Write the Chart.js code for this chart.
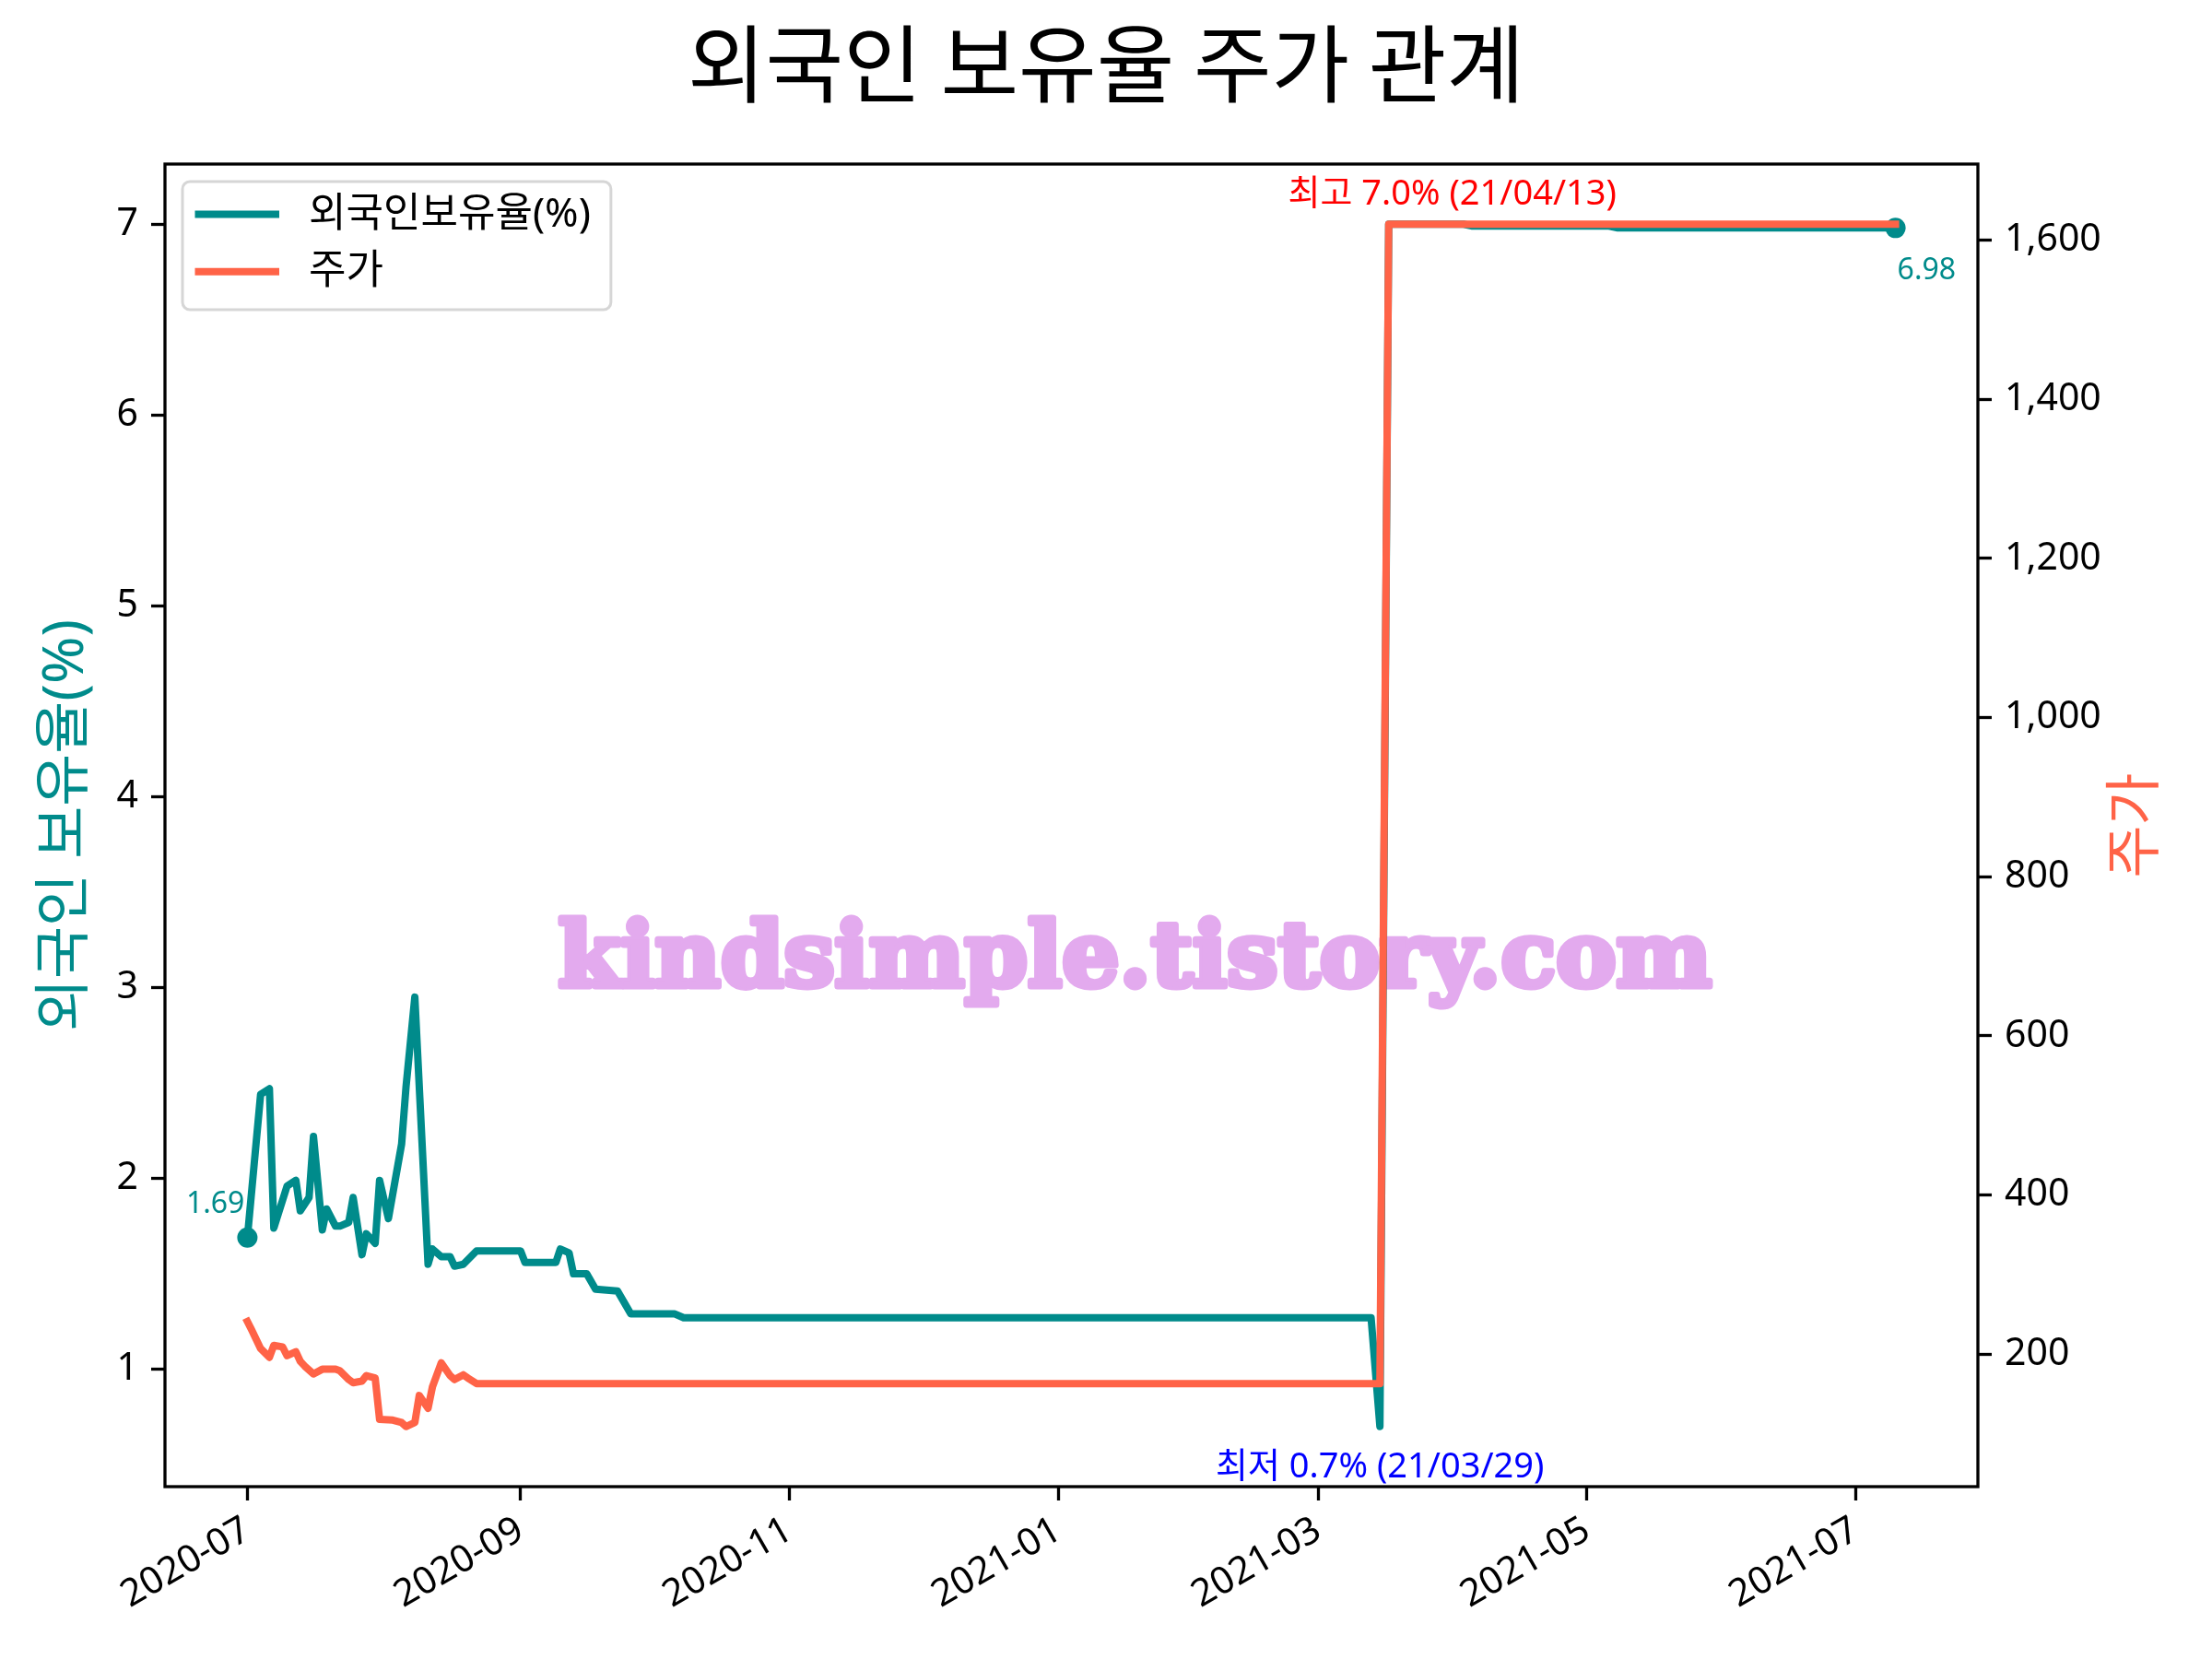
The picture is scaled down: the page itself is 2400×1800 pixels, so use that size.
<!DOCTYPE html>
<html lang="ko">
<head>
<meta charset="UTF-8" />
<title>외국인 보유율 주가 관계</title>
<style>
  html, body { margin: 0; padding: 0; background: #fff; }
</style>
</head>
<body>
<canvas id="chart" width="2400" height="1800"></canvas>
<script src="https://cdn.jsdelivr.net/npm/chart.js"></script>
<script>
// 외국인 보유율 (%)
const ratioDates = [
  '2020-07-01', '2020-07-04', '2020-07-06', '2020-07-07', '2020-07-10', '2020-07-12',
  '2020-07-13', '2020-07-15', '2020-07-16', '2020-07-18', '2020-07-19', '2020-07-21',
  '2020-07-22', '2020-07-24', '2020-07-25', '2020-07-27', '2020-07-28', '2020-07-30',
  '2020-07-31', '2020-08-02', '2020-08-05', '2020-08-06', '2020-08-08', '2020-08-11',
  '2020-08-12', '2020-08-14', '2020-08-16', '2020-08-17', '2020-08-19', '2020-08-22',
  '2020-09-01', '2020-09-02', '2020-09-09', '2020-09-10', '2020-09-12', '2020-09-13',
  '2020-09-16', '2020-09-18', '2020-09-23', '2020-09-26', '2020-10-06', '2020-10-08',
  '2021-03-13', '2021-03-15', '2021-03-17', '2021-04-03', '2021-04-05', '2021-05-06',
  '2021-05-08', '2021-07-10'
];
const ratioValues = [
  1.69, 2.44, 2.47, 1.74, 1.96, 1.99,
  1.83, 1.90, 2.22, 1.73, 1.84, 1.75,
  1.75, 1.77, 1.90, 1.60, 1.71, 1.66,
  1.99, 1.79, 2.18, 2.48, 2.95, 1.55,
  1.63, 1.59, 1.59, 1.54, 1.55, 1.62,
  1.62, 1.56, 1.56, 1.63, 1.61, 1.50,
  1.50, 1.42, 1.41, 1.29, 1.29, 1.27,
  1.27, 0.70, 7.00, 7.00, 6.99, 6.99,
  6.98, 6.98
];

// 주가
const priceDates = [
  '2020-07-01', '2020-07-02', '2020-07-04', '2020-07-06', '2020-07-07', '2020-07-09',
  '2020-07-10', '2020-07-12', '2020-07-13', '2020-07-14', '2020-07-16', '2020-07-18',
  '2020-07-21', '2020-07-22', '2020-07-24', '2020-07-25', '2020-07-27', '2020-07-28',
  '2020-07-30', '2020-07-31', '2020-08-03', '2020-08-05', '2020-08-06', '2020-08-08',
  '2020-08-09', '2020-08-11', '2020-08-12', '2020-08-14', '2020-08-16', '2020-08-17',
  '2020-08-19', '2020-08-20', '2020-08-22', '2021-03-15', '2021-03-17', '2021-07-10'
];
const priceValues = [
  241, 230, 207, 196, 211, 209,
  198, 203, 191, 185, 175, 181,
  181, 179, 168, 164, 166, 173,
  170, 118, 117, 114, 109, 114,
  148, 132, 159, 189, 173, 168,
  174, 170, 163, 163, 1620, 1620
];

const xTickLabels = ['2020-07', '2020-09', '2020-11', '2021-01', '2021-03', '2021-05', '2021-07'];
const ratioTicks = [1, 2, 3, 4, 5, 6, 7];
const priceTicks = [200, 400, 600, 800, 1000, 1200, 1400, 1600];

const titleText = '외국인 보유율 주가 관계';
const ratioLabel = '외국인 보유율(%)';
const priceLabel = '주가';
const maxNote = '최고 7.0% (21/04/13)';
const minNote = '최저 0.7% (21/03/29)';
const watermark = 'kindsimple.tistory.com';

const TEAL = '#008b8b';
const TOMATO = '#ff6347';
const FONT = "'Noto Sans', 'Noto Sans CJK KR', sans-serif";

Chart.defaults.font.family = FONT;
Chart.defaults.color = '#000';

// matplotlib style 5% margins
function padded(lo, hi) {
  const m = (hi - lo) * 0.05;
  return [lo - m, hi + m];
}
const ratioTs = ratioDates.map(d => Date.parse(d));
const priceTs = priceDates.map(d => Date.parse(d));
const [xMin, xMax] = padded(Math.min(...ratioTs, ...priceTs), Math.max(...ratioTs, ...priceTs));
const [yMin, yMax] = padded(Math.min(...ratioValues), Math.max(...ratioValues));
const [pMin, pMax] = padded(Math.min(...priceValues), Math.max(...priceValues));

const decor = {
  id: 'decor',
  beforeDatasetsDraw(chart) {
    const { ctx, chartArea: a } = chart;
    const stroke = 7;
    ctx.save();
    ctx.font = "bold 100px 'DejaVu Serif'";
    const w = ctx.measureText(watermark).width;
    const size = 100 * ((a.right - a.left) * 0.64 - stroke) / w;
    ctx.font = `bold ${size}px 'DejaVu Serif'`;
    ctx.fillStyle = '#e3aaee';
    ctx.strokeStyle = '#e3aaee';
    ctx.lineWidth = stroke;
    ctx.lineJoin = 'round';
    ctx.textAlign = 'center';
    ctx.textBaseline = 'middle';
    const wx = a.left + (a.right - a.left) * 0.535;
    const wy = a.top + (a.bottom - a.top) * 0.604;
    ctx.strokeText(watermark, wx, wy);
    ctx.fillText(watermark, wx, wy);
    ctx.restore();
  },
  afterDatasetsDraw(chart) {
    const { ctx, chartArea: a, scales } = chart;
    ctx.save();

    // spines
    ctx.strokeStyle = '#000';
    ctx.lineWidth = 3.3;
    ctx.strokeRect(a.left, a.top, a.right - a.left, a.bottom - a.top);

    // point notes
    const px = i => scales.x.getPixelForValue(ratioTs[i]);
    const py = i => scales.y.getPixelForValue(ratioValues[i]);
    const last = ratioValues.length - 1;
    ctx.font = `32px ${FONT}`;
    ctx.fillStyle = TEAL;
    ctx.textBaseline = 'alphabetic';
    ctx.textAlign = 'right';
    ctx.fillText(ratioValues[0].toFixed(2), px(0) - 3, py(0) - 27);
    ctx.textAlign = 'left';
    ctx.fillText(ratioValues[last].toFixed(2), px(last) + 2, py(last) + 56);

    const iMax = ratioValues.indexOf(Math.max(...ratioValues));
    const iMin = ratioValues.indexOf(Math.min(...ratioValues));
    ctx.font = `38px ${FONT}`;
    ctx.textAlign = 'center';
    ctx.fillStyle = 'red';
    ctx.fillText(maxNote, px(iMax) + 69, py(iMax) - 21);
    ctx.fillStyle = 'blue';
    ctx.fillText(minNote, px(iMin), py(iMin) + 55);

    // legend
    const x0 = a.left + 19, y0 = a.top + 19;
    ctx.font = `44px ${FONT}`;
    const items = chart.data.datasets.map(ds => ({ label: ds.label, color: ds.borderColor }));
    const tw = Math.max(...items.map(it => ctx.measureText(it.label).width));
    const bw = 137 + tw + 22, bh = 139;
    ctx.beginPath();
    ctx.roundRect(x0, y0, bw, bh, 8);
    ctx.fillStyle = 'rgba(255,255,255,0.8)';
    ctx.fill();
    ctx.strokeStyle = '#d6d6d6';
    ctx.lineWidth = 3;
    ctx.stroke();
    ctx.textAlign = 'left';
    ctx.textBaseline = 'middle';
    items.forEach((it, k) => {
      const ly = y0 + 35.5 + k * 62.3;
      ctx.strokeStyle = it.color;
      ctx.lineWidth = 8;
      ctx.beginPath();
      ctx.moveTo(x0 + 13.5, ly);
      ctx.lineTo(x0 + 105, ly);
      ctx.stroke();
      ctx.fillStyle = '#000';
      ctx.fillText(it.label, x0 + 137, ly + 1);
    });

    // axis titles
    ctx.font = `62px ${FONT}`;
    ctx.textAlign = 'center';
    const cy = (a.top + a.bottom) / 2;
    [[ratioLabel, TEAL, a.left - 107], [priceLabel, TOMATO, a.right + 173]].forEach(([t, c, x]) => {
      ctx.save();
      ctx.translate(x, cy);
      ctx.rotate(-Math.PI / 2);
      ctx.fillStyle = c;
      ctx.fillText(t, 0, 0);
      ctx.restore();
    });
    ctx.restore();
  }
};

const tickGrid = { drawOnChartArea: false, color: '#000', tickLength: 15, tickWidth: 3.3 };

new Chart(document.getElementById('chart'), {
  type: 'line',
  data: {
    datasets: [
      {
        label: '외국인보유율(%)',
        data: ratioTs.map((x, i) => ({ x, y: ratioValues[i] })),
        yAxisID: 'y',
        borderColor: TEAL,
        backgroundColor: TEAL,
        borderWidth: 8,
        borderJoinStyle: 'round',
        borderCapStyle: 'square',
        tension: 0,
        pointRadius: c => (c.dataIndex === 0 || c.dataIndex === ratioValues.length - 1) ? 11 : 0,
        pointBackgroundColor: TEAL,
        pointBorderWidth: 0,
        order: 2
      },
      {
        label: '주가',
        data: priceTs.map((x, i) => ({ x, y: priceValues[i] })),
        yAxisID: 'y2',
        borderColor: TOMATO,
        backgroundColor: TOMATO,
        borderWidth: 8,
        borderJoinStyle: 'round',
        borderCapStyle: 'square',
        tension: 0,
        pointRadius: 0,
        order: 1
      }
    ]
  },
  options: {
    responsive: false,
    animation: false,
    devicePixelRatio: 1,
    events: [],
    layout: { padding: 0 },
    plugins: {
      legend: { display: false },
      tooltip: { enabled: false },
      title: {
        display: true,
        text: titleText,
        color: '#000',
        font: { size: 92, weight: 'normal', family: "'Noto Sans CJK KR', sans-serif" },
        padding: { top: 14, bottom: 53.6 }
      }
    },
    scales: {
      x: {
        type: 'linear',
        min: xMin,
        max: xMax,
        afterBuildTicks: s => { s.ticks = xTickLabels.map(l => ({ value: Date.parse(l + '-01') })); },
        afterFit: s => { s.height = 187; },
        ticks: {
          autoSkip: false,
          minRotation: 30,
          maxRotation: 30,
          padding: 8,
          font: { size: 41 },
          callback: (v, i) => xTickLabels[i]
        },
        grid: tickGrid,
        border: { display: false }
      },
      y: {
        position: 'left',
        min: yMin,
        max: yMax,
        afterBuildTicks: s => { s.ticks = ratioTicks.map(v => ({ value: v })); },
        afterFit: s => { s.width = 179; },
        ticks: { padding: 14, font: { size: 41 } },
        grid: tickGrid,
        border: { display: false }
      },
      y2: {
        position: 'right',
        min: pMin,
        max: pMax,
        afterBuildTicks: s => { s.ticks = priceTicks.map(v => ({ value: v })); },
        afterFit: s => { s.width = 254; },
        ticks: { padding: 14, font: { size: 41 }, callback: v => v.toLocaleString('en-US') },
        grid: tickGrid,
        border: { display: false }
      }
    }
  },
  plugins: [decor]
});
</script>
</body>
</html>
